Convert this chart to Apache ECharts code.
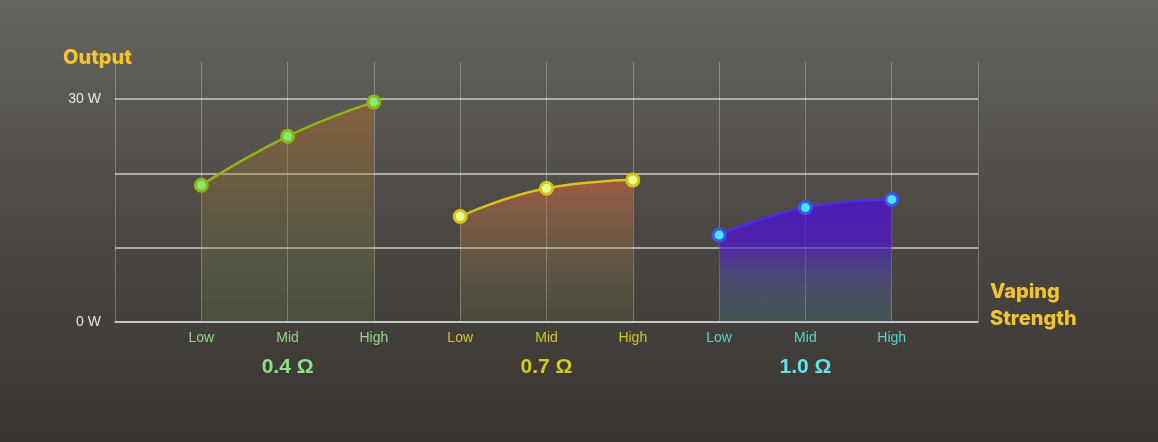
<!DOCTYPE html>
<html>
<head>
<meta charset="utf-8">
<script src="https://cdn.jsdelivr.net/npm/echarts@6/dist/echarts.min.js"></script>
<style>
html,body{margin:0;padding:0;}
#c{width:1158px;height:442px;background:linear-gradient(180deg,#67655f 0%,#4c4944 50%,#39342f 100%);}
</style>
</head>
<body>
<div id="c"></div>
<script>
// ---- data ----
var xLabels = ['', 'Low', 'Mid', 'High', 'Low', 'Mid', 'High', 'Low', 'Mid', 'High', ''];
var groupNames = ['0.4 Ω', '0.7 Ω', '1.0 Ω'];
var group1 = [18.4, 25.0, 29.6];
var group2 = [14.2, 18.0, 19.1];
var group3 = [11.7, 15.4, 16.5];
var yTickLabels = {0: '0 W', 30: '30 W'};

var labelColors = ['#8fd88a', '#d2c62a', '#56d4d4'];
var groupColors = ['#8ee087', '#d6cb1e', '#5fe4ea'];

function place(vals, start) {
  var arr = xLabels.map(function () { return '-'; });
  vals.forEach(function (v, i) { arr[start + i] = v; });
  return arr;
}

var rich = {};
labelColors.forEach(function (c, i) {
  rich['a' + i] = {color: c, fontSize: 14, lineHeight: 16, fontFamily: 'Liberation Sans'};
  rich['g' + i] = {color: groupColors[i], fontSize: 21, fontWeight: 'bold', lineHeight: 42, fontFamily: 'Liberation Sans'};
});

function mkSeries(vals, start, lineColor, fillColor, borderColor, stops) {
  return {
    type: 'line',
    data: place(vals, start),
    smooth: 0.5,
    symbol: 'circle',
    symbolSize: 12,
    lineStyle: {color: lineColor, width: 2.5},
    itemStyle: {color: fillColor, borderColor: borderColor, borderWidth: 3},
    areaStyle: {
      color: {type: 'linear', x: 0, y: 0, x2: 0, y2: 1,
        colorStops: stops.map(function (c) { return {offset: c[0], color: c[1]}; })}
    },
    z: 3
  };
}

var chart = echarts.init(document.getElementById('c'), null, {renderer: 'canvas'});
chart.setOption({
  animation: false,
  backgroundColor: 'transparent',
  title: [
    {text: 'Output', left: 58, top: 43,
      textStyle: {color: '#f4c430', fontSize: 20, fontWeight: 800, fontFamily: 'Inter'}},
    {text: 'Vaping\nStrength', left: 985, top: 273,
      textStyle: {color: '#f4c430', fontSize: 20, fontWeight: 800, lineHeight: 27, fontFamily: 'Inter'}}
  ],
  grid: {left: 115, right: 180, top: 62, bottom: 120},
  xAxis: {
    type: 'category',
    data: xLabels,
    boundaryGap: false,
    axisLine: {show: true, lineStyle: {color: '#cfcfcf', width: 1.5}},
    axisTick: {show: false},
    axisLabel: {
      interval: 0,
      margin: 8,
      formatter: function (v, i) {
        if (!v) return '';
        var g = Math.floor((i - 1) / 3);
        var s = '{a' + g + '|' + v + '}';
        if (v === 'Mid') s += '\n{g' + g + '|' + groupNames[g] + '}';
        return s;
      },
      rich: rich
    },
    splitLine: {show: true, lineStyle: {color: 'rgba(255,255,255,0.28)', width: 1}}
  },
  yAxis: {
    type: 'value',
    min: 0,
    max: 35,
    interval: 10,
    axisLine: {show: false},
    axisTick: {show: false},
    axisLabel: {
      color: '#e6e6e6', fontSize: 14, margin: 14, fontFamily: 'Liberation Sans',
      formatter: function (v) { return yTickLabels[v] || ''; }
    },
    splitLine: {show: true, showMaxLine: false, lineStyle: {color: 'rgba(225,225,225,0.85)', width: 1.5}}
  },
  series: [
    mkSeries(group1, 1, '#93b318', '#7cf07a', '#93b318',
      [[0, 'rgba(185,105,35,0.65)'], [0.5, 'rgba(150,130,60,0.4)'], [1, 'rgba(110,170,90,0.22)']]),
    mkSeries(group2, 4, '#d6c41c', '#e6ff8a', '#d6c41c',
      [[0, 'rgba(235,100,58,0.72)'], [0.5, 'rgba(190,140,80,0.35)'], [1, 'rgba(150,170,100,0.12)']]),
    mkSeries(group3, 7, '#4a2ee6', '#47e6ff', '#3b57ee',
      [[0, 'rgba(76,8,225,1)'], [0.35, 'rgba(80,16,218,0.97)'], [0.7, 'rgba(80,90,170,0.6)'], [1, 'rgba(80,150,165,0.3)']])
  ]
});
</script>
</body>
</html>
